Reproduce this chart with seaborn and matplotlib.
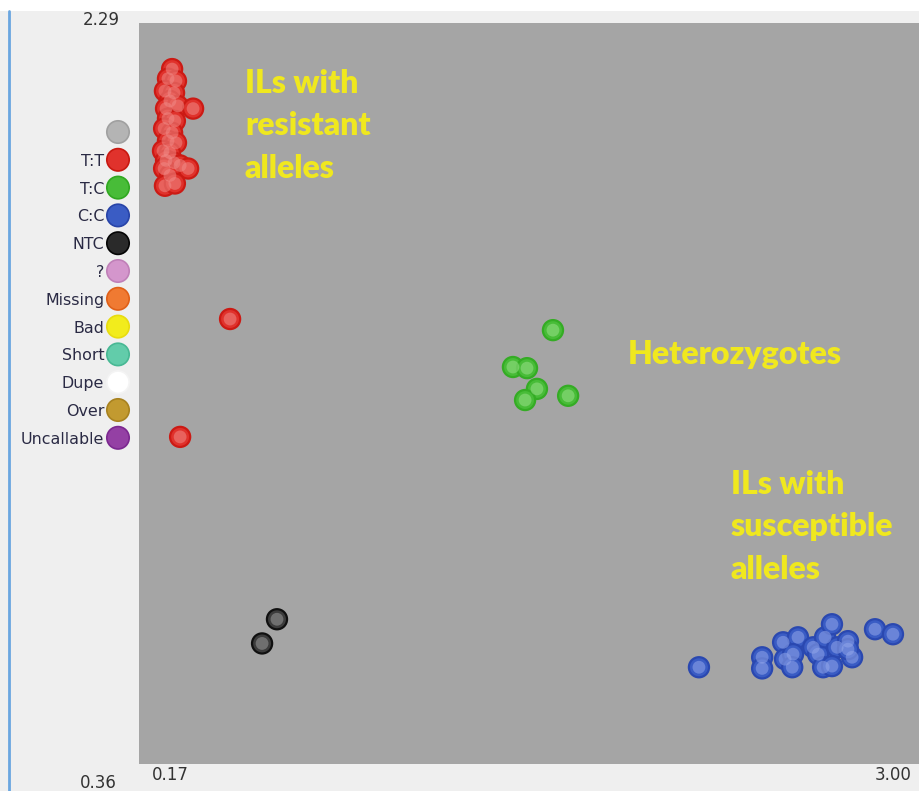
import pandas as pd
import matplotlib.pyplot as plt
import seaborn as sns

# === Límites de los ejes ===
x_min, x_max = 0.17, 3.00
y_min, y_max = 0.36, 2.29

# === Puntos por genotipo ===
tt_x = [0.290, 0.275, 0.304, 0.264, 0.297, 0.282, 0.268, 0.311, 0.366, 0.275,
        0.300, 0.261, 0.290, 0.275, 0.304, 0.257, 0.282, 0.268, 0.297, 0.319,
        0.348, 0.261, 0.282, 0.264, 0.300, 0.500, 0.319]
tt_y = [2.170, 2.145, 2.139, 2.113, 2.108, 2.087, 2.067, 2.074, 2.067, 2.041,
        2.035, 2.015, 2.004, 1.983, 1.978, 1.957, 1.952, 1.932, 1.926, 1.919,
        1.911, 1.911, 1.893, 1.866, 1.872, 1.519, 1.212]

tc_x = [1.670, 1.525, 1.576, 1.612, 1.569, 1.725]
tc_y = [1.490, 1.394, 1.391, 1.337, 1.308, 1.319]

cc_x = [2.199, 2.428, 2.428, 2.504, 2.558, 2.511, 2.540, 2.537, 2.613, 2.631,
        2.656, 2.681, 2.700, 2.739, 2.754, 2.649, 2.681, 2.837, 2.902, 2.739]
cc_y = [0.612, 0.638, 0.609, 0.677, 0.690, 0.633, 0.646, 0.612, 0.664, 0.646,
        0.690, 0.724, 0.664, 0.680, 0.638, 0.612, 0.615, 0.711, 0.698, 0.659]

ntc_x = [0.670, 0.616]
ntc_y = [0.737, 0.674]

# === Leyenda de genotipos ===
legend_labels = ["", "T:T", "T:C", "C:C", "NTC", "?", "Missing", "Bad",
                 "Short", "Dupe", "Over", "Uncallable"]
legend_colors = ["#b4b4b4", "#e0322c", "#48bc38", "#3a5cc4", "#2a2a2a", "#d496cc",
                 "#f07a32", "#f2ec1c", "#62ccaa", "#ffffff", "#c29a30", "#9440a4"]
legend_edges = ["#a0a0a0", "#c81810", "#30a820", "#2844a8", "#050505", "#c080b8",
                "#e06018", "#e8dc10", "#48b894", "#f4f4f4", "#a88220", "#7c2890"]

# === Textos ===
label_resistant = "ILs with\nresistant\nalleles"
label_het = "Heterozygotes"
label_susceptible = "ILs with\nsusceptible\nalleles"

# === DataFrame ===
df = pd.concat([
    pd.DataFrame({"x": tt_x, "y": tt_y, "call": "T:T"}),
    pd.DataFrame({"x": tc_x, "y": tc_y, "call": "T:C"}),
    pd.DataFrame({"x": cc_x, "y": cc_y, "call": "C:C"}),
    pd.DataFrame({"x": ntc_x, "y": ntc_y, "call": "NTC"}),
], ignore_index=True)

base = {"T:T": "#e0322c", "T:C": "#48bc38", "C:C": "#3a5cc4", "NTC": "#3c3c3c"}
edge = {"T:T": "#cc1a14", "T:C": "#34ac24", "C:C": "#2a48b0", "NTC": "#101010"}
light = {"T:T": "#f08a86", "T:C": "#9ae08a", "C:C": "#92a6ea", "NTC": "#9a9a9a"}

sns.set_style("white")
plt.rcParams["font.family"] = ["DejaVu Sans"]

fig = plt.figure(figsize=(9.2, 7.91), dpi=100, facecolor="#efefef")
W, H = 920, 791

# franja blanca superior y línea azul izquierda
fig.add_artist(plt.Rectangle((0, 1 - 11 / H), 1, 11 / H, transform=fig.transFigure,
                             facecolor="white", edgecolor="none"))
fig.add_artist(plt.Line2D([9.5 / W, 9.5 / W], [0, 1 - 11 / H], transform=fig.transFigure,
                          color="#6aa6e0", lw=2))

# === Gráfico principal ===
ax = fig.add_axes([139 / W, 1 - 764 / H, (W - 139) / W, (764 - 23) / H])
ax.set_facecolor("#a5a5a5")

sns.scatterplot(data=df, x="x", y="y", hue="call", palette=base, s=210,
                edgecolor=df["call"].map(edge).tolist(), linewidth=1.6,
                legend=False, ax=ax, zorder=3)
sns.scatterplot(data=df, x="x", y="y", hue="call", palette=light, s=85,
                edgecolor="none", alpha=0.55, legend=False, ax=ax, zorder=4)

ax.set_xlim(x_min, x_max)
ax.set_ylim(y_min, y_max)
ax.set_xticks([])
ax.set_yticks([])
ax.set_xlabel("")
ax.set_ylabel("")
for s in ax.spines.values():
    s.set_visible(False)

ann = dict(color="#f0e81e", fontsize=23, fontweight="heavy", family=["Lato", "DejaVu Sans"],
           transform=ax.transAxes, ha="left", va="center", linespacing=1.55)
ax.text(0.1357, 0.861, label_resistant, **ann)
ax.text(0.626, 0.552, label_het, **ann)
ax.text(0.7575, 0.320, label_susceptible, **ann)

# === Etiquetas de los límites ===
tick_kw = dict(color="#333333", fontsize=12)
fig.text(120 / W, 1 - 20 / H, f"{y_max:.2f}", ha="right", va="center", **tick_kw)
fig.text(117 / W, 1 - 783 / H, f"{y_min:.2f}", ha="right", va="center", **tick_kw)
fig.text(152 / W, 1 - 775 / H, f"{x_min:.2f}", ha="left", va="center", **tick_kw)
fig.text(912 / W, 1 - 775 / H, f"{x_max:.2f}", ha="right", va="center", **tick_kw)

# === Leyenda ===
n = len(legend_labels)
step = 27.8
top = 132 - step / 2
lax = fig.add_axes([107 / W, 1 - (top + n * step) / H, 22 / W, n * step / H])
lax.patch.set_alpha(0)
leg = pd.DataFrame({"x": [0] * n, "y": list(range(n)), "lab": legend_labels})
sns.scatterplot(data=leg, x="x", y="y", hue="lab",
                palette=dict(zip(legend_labels, legend_colors)), s=260,
                edgecolor=legend_edges, linewidth=1.2, legend=False, ax=lax,
                clip_on=False)
lax.set_xlim(-1, 1)
lax.set_ylim(n - 0.5, -0.5)
lax.set_xticks([])
lax.set_yticks(range(n))
lax.set_yticklabels(legend_labels, fontsize=11.4, color="#2a2a44")
lax.tick_params(axis="y", length=0, pad=2)
lax.set_xlabel("")
lax.set_ylabel("")
for s in lax.spines.values():
    s.set_visible(False)

plt.savefig("out.png", dpi=100, facecolor=fig.get_facecolor())
plt.close()
